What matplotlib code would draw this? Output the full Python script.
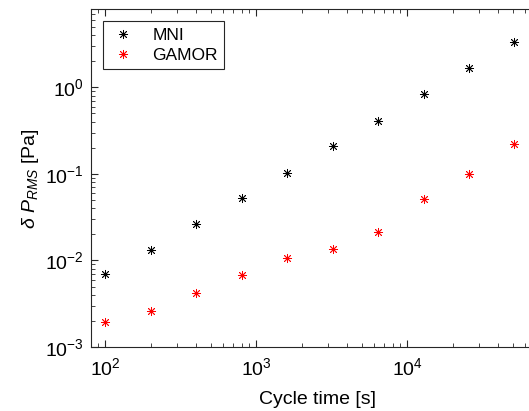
import matplotlib
matplotlib.use("Agg")
import matplotlib.pyplot as plt
import numpy as np

plt.rcParams["font.family"] = ["Liberation Sans", "DejaVu Sans"]
plt.rcParams["mathtext.fontset"] = "custom"
plt.rcParams["mathtext.rm"] = "Liberation Sans"
plt.rcParams["mathtext.it"] = "Liberation Sans:italic"
plt.rcParams["mathtext.bf"] = "Liberation Sans:bold"

# cycle time [s]
cycle_time = [100, 200, 400, 800, 1600, 3200, 6400, 12800, 25600, 51200]
# RMS pressure error [Pa]
mni = [0.0070, 0.0132, 0.0264, 0.0528, 0.103, 0.211, 0.411, 0.845, 1.68, 3.32]
gamor = [0.00196, 0.0026, 0.0042, 0.0068, 0.0106, 0.0136, 0.0214, 0.0514, 0.100, 0.223]

axcol = (0.15, 0.15, 0.15)

fig = plt.figure(figsize=(5.29, 4.11), dpi=100)
ax = fig.add_axes([90.7 / 529, (411 - 347) / 411, 453 / 529, (347 - 9.3) / 411])

ast = (8, 2, 0)
ax.plot(cycle_time, mni, linestyle="none", marker=ast, markersize=6.5,
        markeredgewidth=0.6, color="black", label="MNI")
ax.plot(cycle_time, gamor, linestyle="none", marker=ast, markersize=6.5,
        markeredgewidth=0.6, color="red", label="GAMOR")

ax.set_xscale("log")
ax.set_yscale("log")
ax.set_xlim(80, 8e4)
ax.set_ylim(1e-3, 8)

for s in ax.spines.values():
    s.set_color(axcol)
    s.set_linewidth(0.8)

ax.tick_params(which="both", direction="in", top=True, right=True,
               colors=axcol, labelcolor="black", labelsize=14)
ax.tick_params(which="major", length=5, width=0.8)
ax.tick_params(which="minor", length=3, width=0.6)
ax.tick_params(axis="x", which="major", pad=7)
ax.tick_params(axis="y", which="major", pad=5)
ax.yaxis.set_major_locator(matplotlib.ticker.LogLocator(base=10, numticks=10))

ax.set_xlabel("Cycle time [s]", fontsize=14, labelpad=9)
ax.set_ylabel(r"$\delta\ P_{RMS}$ [Pa]", fontsize=14, labelpad=3)

leg = ax.legend(loc="upper left", fontsize=12.5, fancybox=False, framealpha=1,
                edgecolor=axcol, handlelength=1.6, borderaxespad=0.7,
                handletextpad=0.9, labelspacing=0.3, borderpad=0.35)
leg.get_frame().set_linewidth(0.8)

fig.savefig("out.png", dpi=100)
